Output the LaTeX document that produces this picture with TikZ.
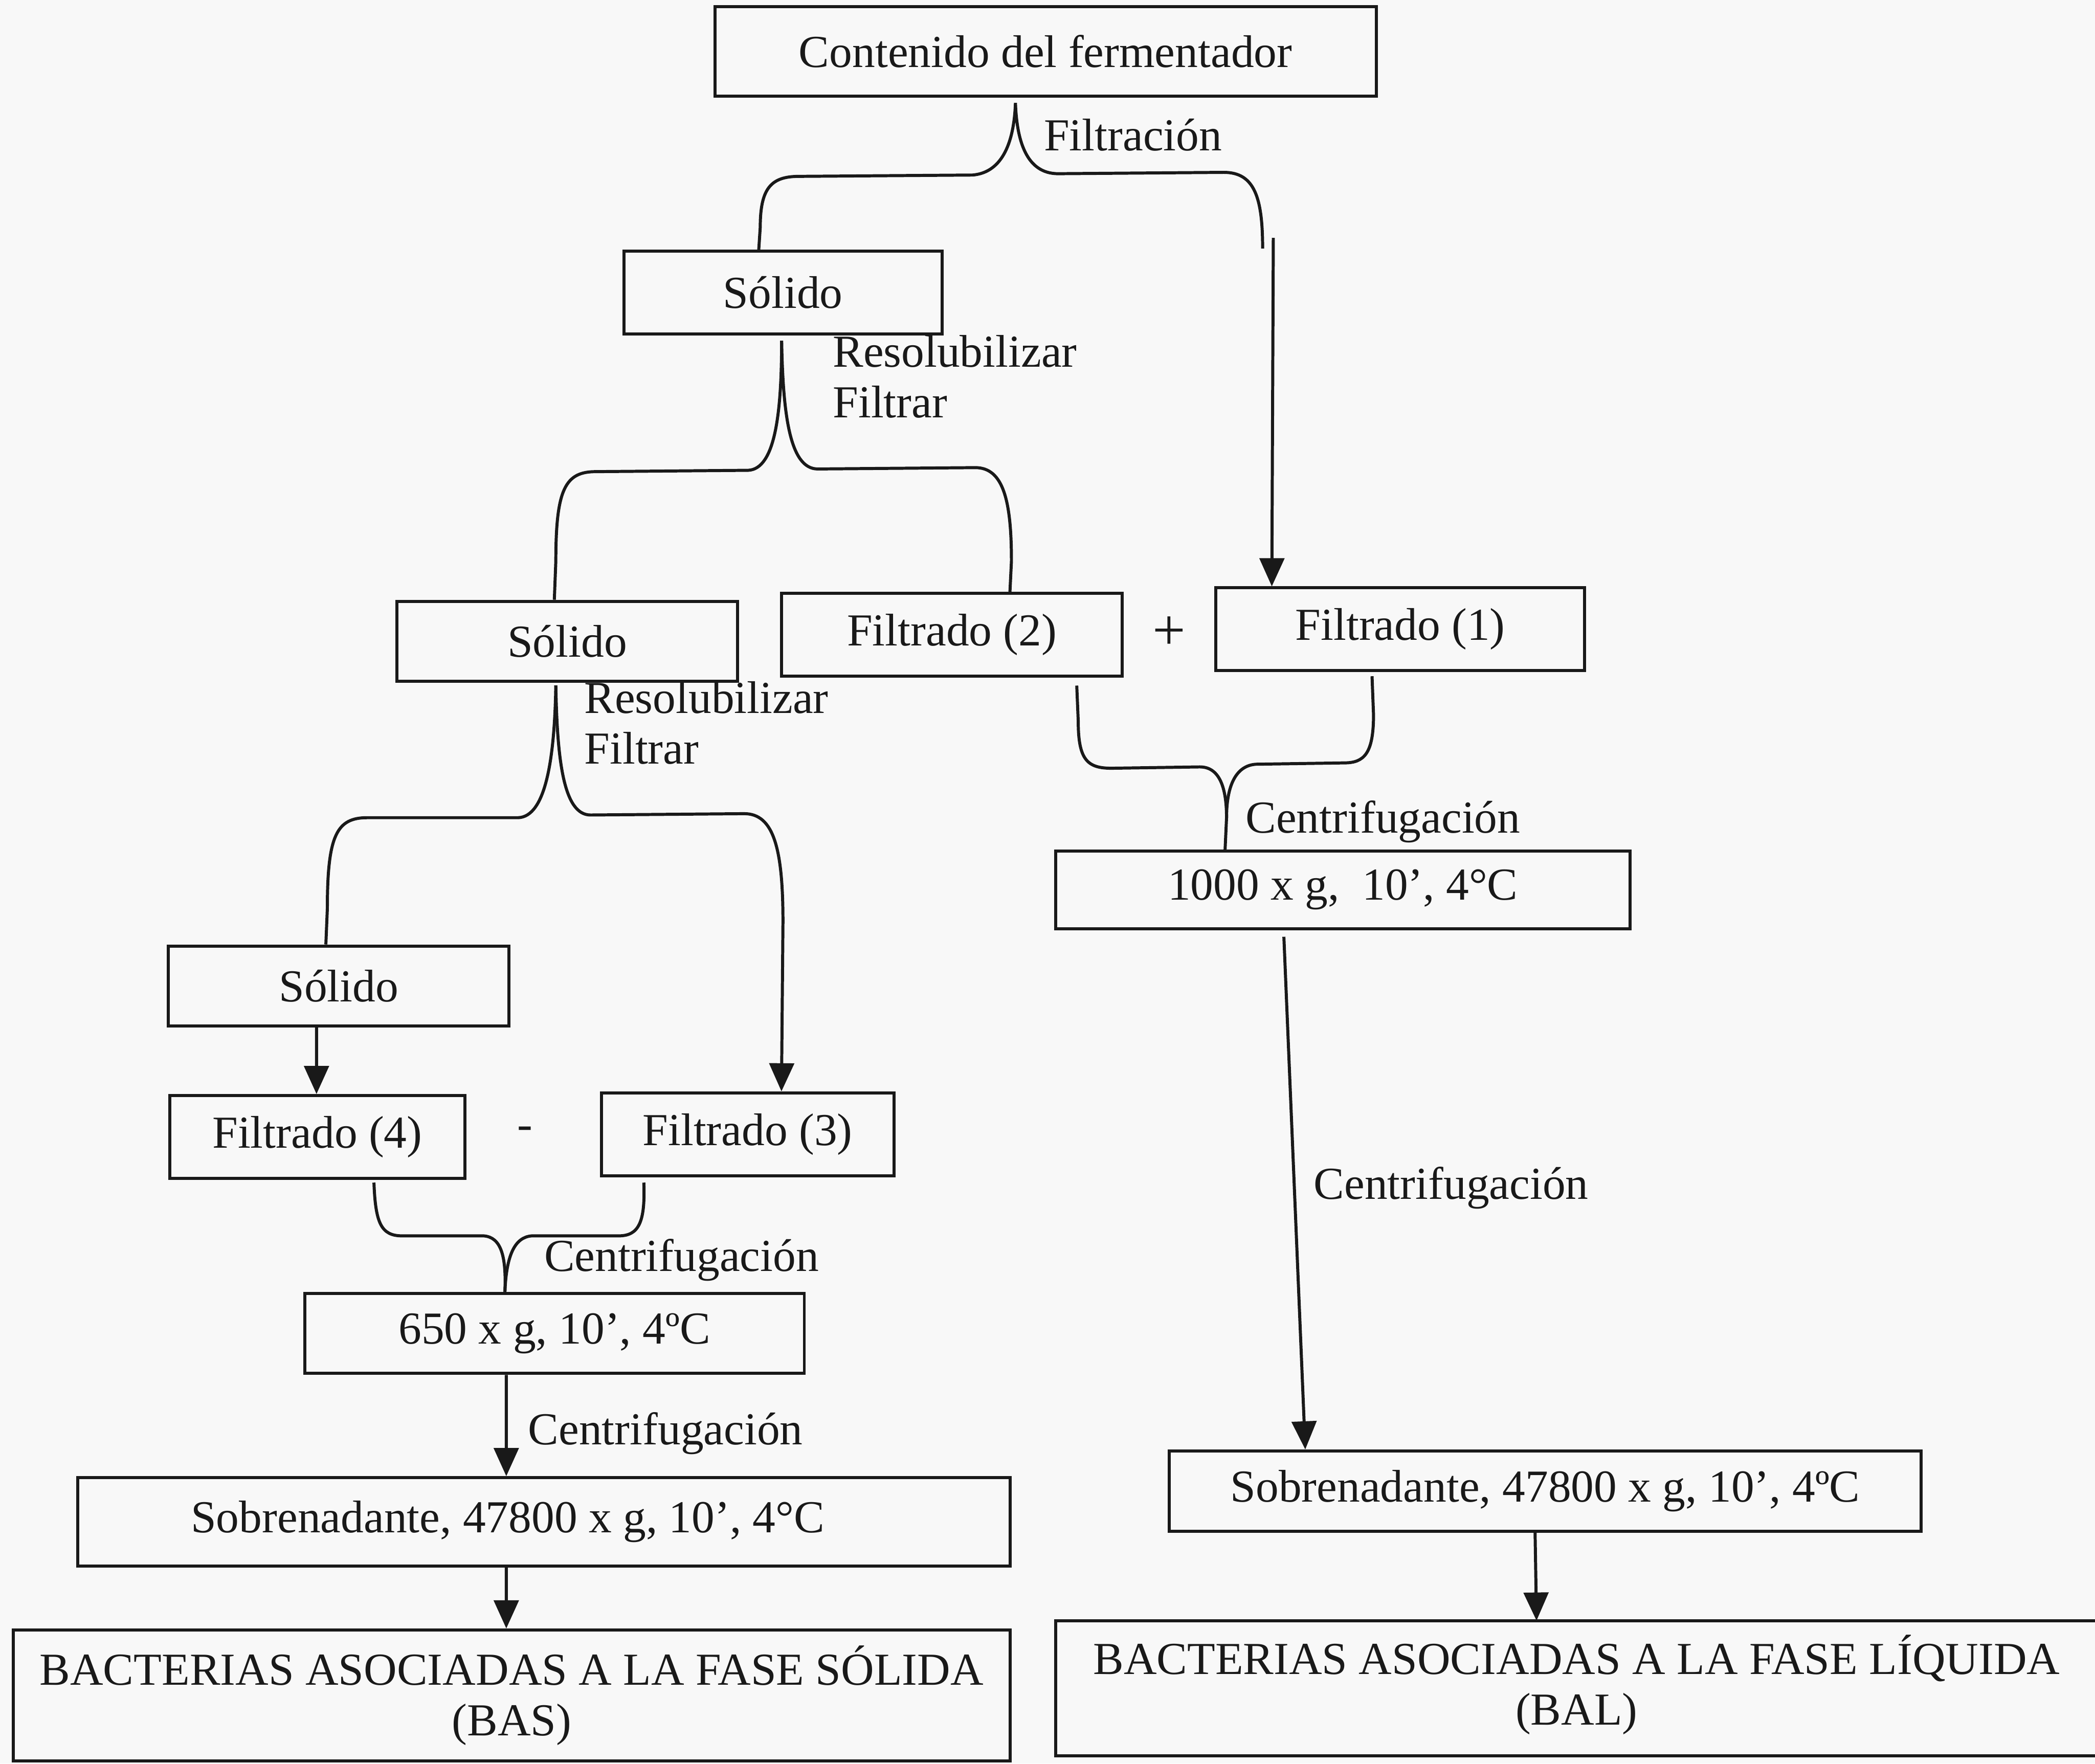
\documentclass[tikz,border=0pt]{standalone}
\usepackage{fontspec}
\setmainfont{Liberation Serif}
\usetikzlibrary{arrows.meta,calc}
\definecolor{ink}{RGB}{25,25,25}
\definecolor{paper}{RGB}{248,248,248}
\newcommand{\diagfont}{\fontsize{19.5}{21.5}\selectfont}
\begin{document}
\begin{tikzpicture}[x=0.02cm,y=-0.02cm,
  box/.style={draw=ink, line width=1.3pt, rectangle, inner sep=0pt, font=\diagfont, text=ink},
  lbl/.style={anchor=west, inner sep=0pt, font=\diagfont, align=left, text=ink},
  txt/.style={inner sep=0pt, font=\diagfont, align=center, text=ink},
  conn/.style={draw=ink, line width=1.3pt},
  arr/.style={draw=ink, line width=1.3pt, -{Triangle[length=12pt,width=10.5pt]}}]
\fill[paper] (0,0) rectangle (1568,1320);
\useasboundingbox (0,0) rectangle (1568,1320);

% boxes
\node[box, minimum width=9.9cm, minimum height=1.34cm] (A) at (782.5,38.5) {Contenido del fermentador};
\node[box, minimum width=4.76cm, minimum height=1.24cm] (S1) at (586,219) {Sólido};
\node[box, minimum width=5.1cm, minimum height=1.2cm] (S2) at (424.5,480) {Sólido};
\node[box, minimum width=5.1cm, minimum height=1.24cm] (F2) at (712.5,475) {Filtrado (2)};
\node[box, minimum width=5.52cm, minimum height=1.24cm] (F1) at (1048,471) {Filtrado (1)};
\node[box, minimum width=5.1cm, minimum height=1.2cm] (S3) at (253.5,738) {Sólido};
\node[box, minimum width=4.42cm, minimum height=1.24cm] (F4) at (237.5,851) {Filtrado (4)};
\node[box, minimum width=4.38cm, minimum height=1.24cm] (F3) at (559.5,849) {Filtrado (3)};
\node[box, minimum width=7.48cm, minimum height=1.2cm] (C650) at (415,998) {650 x g, 10’, 4ºC};
\node[box, minimum width=8.6cm, minimum height=1.16cm] (C1000) at (1005,666) {1000 x g,\ \ 10’, 4°C};
\node[box, minimum width=13.96cm, minimum height=1.32cm] (Sob1) at (407,1139) {};
\node[txt] (Sob1t) at (380,1139) {Sobrenadante, 47800 x g, 10’, 4°C};
\node[box, minimum width=11.26cm, minimum height=1.2cm] (Sob2) at (1156.5,1116) {Sobrenadante, 47800 x g, 10’, 4ºC};
\node[box, minimum width=14.92cm, minimum height=1.96cm, align=center] (BAS) at (383,1269) {BACTERIAS ASOCIADAS A LA FASE SÓLIDA\\(BAS)};
\node[txt] (BAL) at (1180,1261) {BACTERIAS ASOCIADAS A LA FASE LÍQUIDA\\(BAL)};
\draw[conn] (1568,1213) -- (790,1213) -- (790,1314) -- (1568,1314);

% labels
\node[lbl] (L1) at (781,101) {Filtración};
\node[lbl] (L2) at (623,282) {Resolubilizar\\Filtrar};
\node[lbl] (L3) at (437,541) {Resolubilizar\\Filtrar};
\node[lbl] (L4) at (932,615) {Centrifugación};
\node[lbl] (L5) at (983,889) {Centrifugación};
\node[lbl] (L6) at (407,943) {Centrifugación};
\node[lbl] (L7) at (395,1073) {Centrifugación};
\node[txt, font=\fontsize{25}{27}\selectfont] (plus) at (875,474) {+};
\node[txt] (minus) at (393,848) {-};

% cusp points
\coordinate (c1) at (760,77);
\coordinate (c2) at (585,255);
\coordinate (c3) at (416,513);
\coordinate (t1) at (953,178);

% brace 1
\draw[conn] ($(S1.north west)+(102,0)$) -- (569,170) .. controls (569,141) and (577,132) .. (598,132) -- (728,131) .. controls (751,129) and (759,105) .. (c1)
  .. controls (761,105) and (768,130) .. (792,130) -- (916,129) .. controls (939,129) and (945,148) .. (945,186);
\draw[arr] (t1) -- ($(F1.north west)+(43,0)$);

% brace 2
\draw[conn] ($(S2.north west)+(119,0)$) -- (416,420) .. controls (416,366) and (423,353) .. (446,353) -- (560,352) .. controls (580,351) and (585,310) .. (c2);
\draw[conn] (c2) .. controls (586,310) and (591,351) .. (612,351) -- (730,350) .. controls (751,350) and (757,375) .. (757,420) -- ($(F2.north west)+(172,0)$);

% brace 3
\draw[conn] ($(S3.north west)+(119,0)$) -- (245,680) .. controls (245,625) and (252,612) .. (275,612) -- (388,612) .. controls (408,611) and (415,570) .. (c3);
\draw[arr] (c3) .. controls (417,570) and (422,610) .. (442,610) -- (557,609) .. controls (579,609) and (586,635) .. (586,690) -- ($(F3.north west)+(136,0)$);
\draw[arr] ($(S3.south west)+(112,0)$) -- ($(F4.north west)+(111,0)$);

% brace 4
\draw[conn] ($(F4.south west)+(154,2)$) .. controls (281,915) and (285,925) .. (301,925) -- (362,925) .. controls (375,926) and (379,940) .. ($(C650.north west)+(151,0)$);
\draw[conn] ($(F3.south west)+(33,4)$) .. controls (483,915) and (478,925) .. (463,925) -- (398,925) .. controls (385,926) and (379,940) .. ($(C650.north west)+(151,0)$);
\draw[arr] ($(C650.south west)+(152,0)$) -- ($(Sob1.north west)+(322,0)$);
\draw[arr] ($(Sob1.south west)+(322,0)$) -- ($(BAS.north west)+(370,0)$);

% brace 5
\draw[conn] ($(F2.south west)+(222,6)$) -- (807,540) .. controls (807,569) and (814,575) .. (832,575) -- (898,574) .. controls (912,574) and (918,588) .. (918,612) -- ($(C1000.north west)+(128,0)$);
\draw[conn] ($(F1.south west)+(118,3)$) -- (1028,535) .. controls (1028,564) and (1021,571) .. (1006,571) -- (940,572) .. controls (925,573) and (918,588) .. (918,612);
\draw[arr] ($(C1000.south west)+(172,5)$) -- ($(Sob2.north west)+(103,0)$);
\draw[arr] ($(Sob2.south west)+(275,0)$) -- (1150,1213);
\end{tikzpicture}
\end{document}
